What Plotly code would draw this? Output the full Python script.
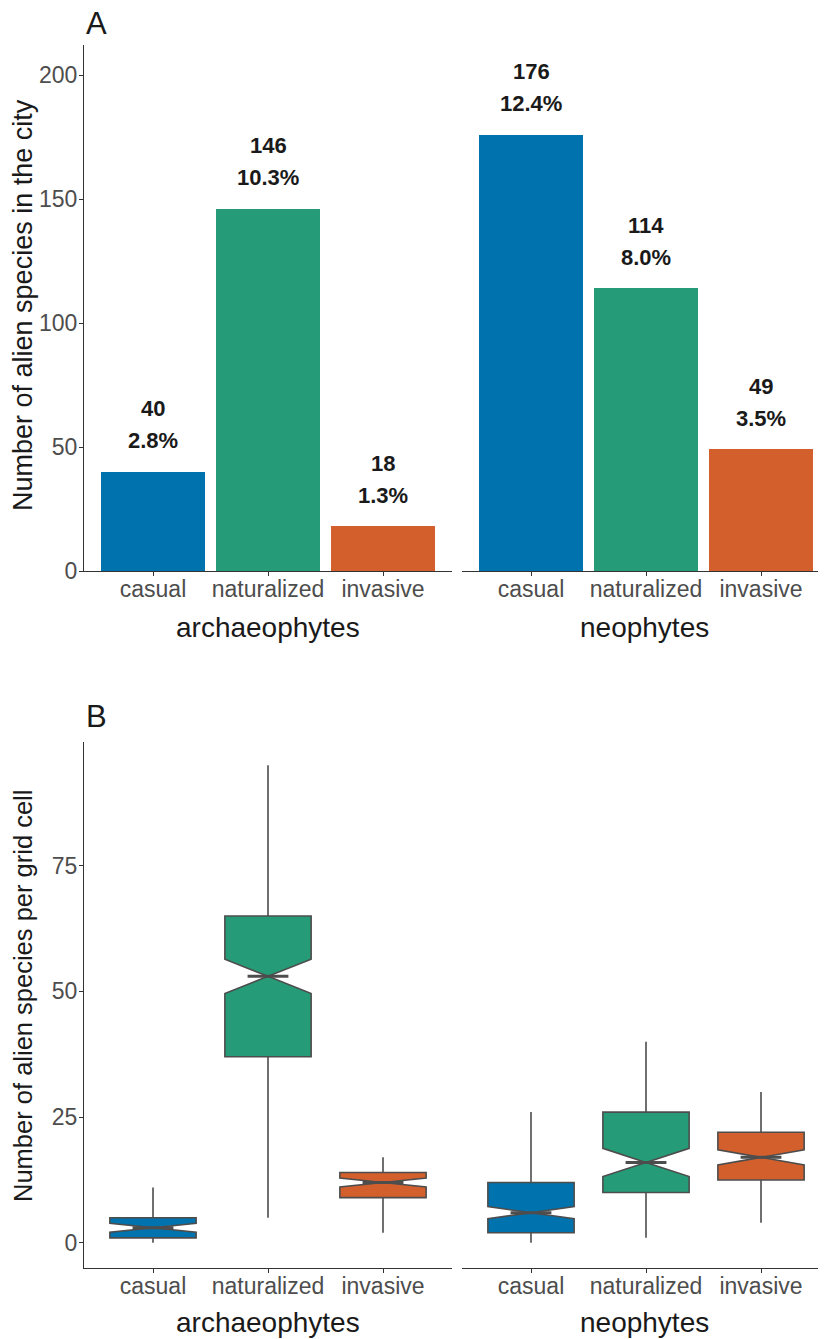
import plotly.graph_objects as go

# ---------------- data ----------------
categories = ["casual", "naturalized", "invasive"]
groups = ["archaeophytes", "neophytes"]
colors = ["#0072AD", "#259C77", "#D3602C"]

# Panel A: number of alien species in the city
counts_arch = [40, 146, 18]
counts_neo = [176, 114, 49]
pct_arch = ["2.8%", "10.3%", "1.3%"]
pct_neo = ["12.4%", "8.0%", "3.5%"]

# Panel B: species per grid cell (box statistics)
arch_low = [0, 5, 2]
arch_q1 = [1, 37, 9]
arch_med = [3, 53, 12]
arch_q3 = [5, 65, 14]
arch_high = [11, 95, 17]
arch_notch = [0.9, 3.4, 0.9]

neo_low = [0, 1, 4]
neo_q1 = [2, 10, 12.5]
neo_med = [6, 16, 17]
neo_q3 = [12, 26, 22]
neo_high = [26, 40, 30]
neo_notch = [1.2, 2.8, 1.5]

FONT = "Liberation Sans, Arial, sans-serif"
# the page body has an 8px margin; the figure is sized to fill the rest of the window
OFF = 8
W, H = 826 - OFF, 1339 - OFF
pos = [1, 2, 3]


def fx(p):  # window x pixel -> paper fraction
    return (p - OFF) / W


def fy(p):  # window y pixel -> paper fraction (from bottom)
    return (H - (p - OFF)) / H


fig = go.Figure()

# ---------- Panel A bars ----------
for xa, ya, vals in [("x", "y", counts_arch), ("x2", "y2", counts_neo)]:
    fig.add_trace(go.Bar(x=pos, y=vals, width=0.9,
                         marker=dict(color=colors, line=dict(width=0)),
                         xaxis=xa, yaxis=ya, showlegend=False, hoverinfo="skip"))

annotations = []
for xa, ya, vals, pcts in [("x", "y", counts_arch, pct_arch), ("x2", "y2", counts_neo, pct_neo)]:
    for p, v, t in zip(pos, vals, pcts):
        annotations.append(dict(x=p, y=v, xref=xa, yref=ya, text="<b>%d</b>" % v, showarrow=False,
                                yanchor="middle", yshift=63, font=dict(family=FONT, size=22, color="#1a1a1a")))
        annotations.append(dict(x=p, y=v, xref=xa, yref=ya, text="<b>%s</b>" % t, showarrow=False,
                                yanchor="middle", yshift=31, font=dict(family=FONT, size=22, color="#1a1a1a")))

# ---------- Panel B boxes ----------
BOXW = 0.75
NOTCHW = 0.5
for xa, ya, lo, q1, md, q3, hi, nt in [
    ("x3", "y3", arch_low, arch_q1, arch_med, arch_q3, arch_high, arch_notch),
    ("x4", "y4", neo_low, neo_q1, neo_med, neo_q3, neo_high, neo_notch),
]:
    for i in range(3):
        fig.add_trace(go.Box(x=[pos[i]], q1=[q1[i]], median=[md[i]], q3=[q3[i]],
                             lowerfence=[lo[i]], upperfence=[hi[i]], notchspan=[nt[i]],
                             notched=True, notchwidth=NOTCHW, width=BOXW, whiskerwidth=0,
                             fillcolor=colors[i], line=dict(color="#4D4D4D", width=1.6),
                             boxpoints=False, xaxis=xa, yaxis=ya, showlegend=False, hoverinfo="skip"))
        half = BOXW / 2 * (1 - NOTCHW) - 0.01
        fig.add_trace(go.Scatter(x=[pos[i] - half, pos[i] + half], y=[md[i], md[i]], mode="lines",
                                 line=dict(color="#4D4D4D", width=3), xaxis=xa, yaxis=ya,
                                 showlegend=False, hoverinfo="skip"))

# ---------- axes ----------
xl = [fx(84), fx(452)]
xr = [fx(462), 1.0]
ppu = (452 - 84) / 3.2
xr_range = [0.4, 0.4 + (826 - 462) / ppu]
yA = [fy(571), fy(45)]
yB = [fy(1268), fy(742)]

axline = dict(showline=True, linecolor="#333333", linewidth=1.2, showgrid=False, zeroline=False,
              ticks="outside", ticklen=4, tickcolor="#333333", tickwidth=1.1, automargin=False,
              tickfont=dict(family=FONT, size=23, color="#4D4D4D"))


def xaxis(domain, rng, anchor):
    return dict(domain=domain, range=rng, anchor=anchor, tickvals=pos, ticktext=categories,
                ticklabelstandoff=-7, **axline)


hidden_y = dict(showline=False, showticklabels=False, ticks="", showgrid=False, zeroline=False,
                automargin=False)

yA_range = [0, (571 - 45) / 2.48]
yB_range = [-5, (1244 - 742) / 5.04]

fig.update_layout(
    width=W, height=H, margin=dict(l=0, r=0, t=0, b=0, autoexpand=False),
    paper_bgcolor="white", plot_bgcolor="white", boxmode="overlay", bargap=0,
    xaxis=xaxis(xl, [0.4, 3.6], "y"),
    xaxis2=xaxis(xr, xr_range, "y2"),
    xaxis3=xaxis(xl, [0.4, 3.6], "y3"),
    xaxis4=xaxis(xr, xr_range, "y4"),
    yaxis=dict(domain=yA, range=yA_range, anchor="x", tickvals=[0, 50, 100, 150, 200],
               ticklabelstandoff=-3, **axline),
    yaxis2=dict(domain=yA, range=yA_range, anchor="x2", **hidden_y),
    yaxis3=dict(domain=yB, range=yB_range, anchor="x3", tickvals=[0, 25, 50, 75],
                ticklabelstandoff=-3, **axline),
    yaxis4=dict(domain=yB, range=yB_range, anchor="x4", **hidden_y),
)

# facet labels
for xa, ya, g, shift in [("x", "y", groups[0], -56), ("x2", "y2", groups[1], -56),
                         ("x3", "y3", groups[0], -54), ("x4", "y4", groups[1], -54)]:
    annotations.append(dict(x=0.5, y=0, xref=xa + " domain", yref=ya + " domain", text=g, showarrow=False,
                            yanchor="middle", yshift=shift, font=dict(family=FONT, size=28, color="#1a1a1a")))

# y-axis titles
for ypix, t, size in [(305, "Number of alien species in the city", 27),
                      (996, "Number of alien species per grid cell", 25.5)]:
    annotations.append(dict(x=fx(23), y=fy(ypix), xref="paper", yref="paper", text=t, textangle=-90,
                            showarrow=False, xanchor="center", yanchor="middle",
                            font=dict(family=FONT, size=size, color="#1a1a1a")))

# panel letters
for letter, ypix in [("A", 23), ("B", 716)]:
    annotations.append(dict(x=fx(96), y=fy(ypix), xref="paper", yref="paper", text=letter,
                            showarrow=False, xanchor="center", yanchor="middle",
                            font=dict(family=FONT, size=31, color="#1a1a1a")))

fig.update_layout(annotations=annotations)
fig.write_html("out.html")
